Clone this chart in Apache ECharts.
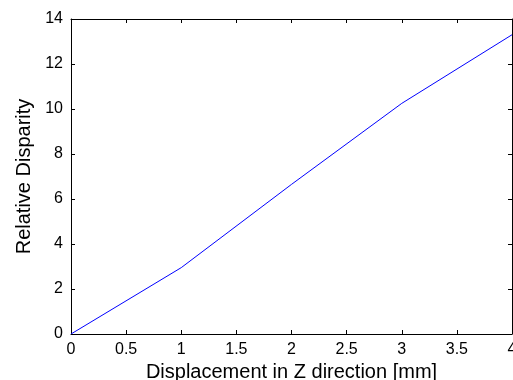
<!DOCTYPE html>
<html lang="en">
<head>
    <meta charset="UTF-8">
    <title>Relative Disparity</title>
    <script src="https://cdn.jsdelivr.net/npm/echarts@6/dist/echarts.min.js"></script>
    <style>
        html, body { margin: 0; padding: 0; background: #fff; }
        #main { width: 513px; height: 380px; }
    </style>
</head>
<body>
    <div id="main"></div>
    <script type="text/javascript">
        // data
        var displacement = [0, 1, 2, 3, 4];
        var disparity = [0, 2.95, 6.65, 10.25, 13.3];
        var xTicks = [0, 0.5, 1, 1.5, 2, 2.5, 3, 3.5, 4];
        var yTicks = [0, 2, 4, 6, 8, 10, 12, 14];

        var points = [];
        for (var i = 0; i < displacement.length; i++) {
            points.push([displacement[i], disparity[i]]);
        }

        var font = 'Liberation Sans, Arial, sans-serif';
        var lineStyle = { color: '#000', width: 1 };

        var myChart = echarts.init(document.getElementById('main'));
        var option = {
            animation: false,
            grid: { left: 71, right: 1, top: 19, bottom: 46, containLabel: false, outerBoundsMode: 'none' },
            xAxis: [{
                type: 'value',
                min: 0, max: 4, interval: 0.5,
                name: 'Displacement in Z direction [mm]',
                nameLocation: 'middle',
                nameGap: 28,
                nameTextStyle: { fontFamily: font, fontSize: 20, color: '#000' },
                axisLine: { onZero: false, lineStyle: lineStyle },
                axisTick: { inside: true, length: 4, lineStyle: lineStyle },
                axisLabel: { fontFamily: font, fontSize: 16, color: '#000', margin: 8,
                    alignMaxLabel: 'center',
                    formatter: function (v) { return xTicks.indexOf(v) >= 0 ? String(v) : ''; } },
                splitLine: { show: false }
            }, {
                type: 'value', position: 'top',
                min: 0, max: 4, interval: 0.5,
                axisLine: { onZero: false, lineStyle: lineStyle },
                axisTick: { inside: true, length: 4, lineStyle: lineStyle },
                axisLabel: { show: false },
                splitLine: { show: false }
            }],
            yAxis: [{
                type: 'value',
                min: 0, max: 14, interval: 2,
                name: 'Relative Disparity',
                nameLocation: 'middle',
                nameGap: 36,
                nameTextStyle: { fontFamily: font, fontSize: 20, color: '#000' },
                axisLine: { onZero: false, lineStyle: lineStyle },
                axisTick: { inside: true, length: 4, lineStyle: lineStyle },
                axisLabel: { fontFamily: font, fontSize: 16, color: '#000', margin: 8,
                    formatter: function (v) { return yTicks.indexOf(v) >= 0 ? String(v) : ''; } },
                splitLine: { show: false }
            }, {
                type: 'value', position: 'right',
                min: 0, max: 14, interval: 2,
                axisLine: { onZero: false, lineStyle: lineStyle },
                axisTick: { inside: true, length: 4, lineStyle: lineStyle },
                axisLabel: { show: false },
                splitLine: { show: false }
            }],
            series: [{
                type: 'line',
                data: points,
                showSymbol: false,
                lineStyle: { color: '#0000ff', width: 1 }
            }]
        };
        myChart.setOption(option);
    </script>
</body>
</html>
